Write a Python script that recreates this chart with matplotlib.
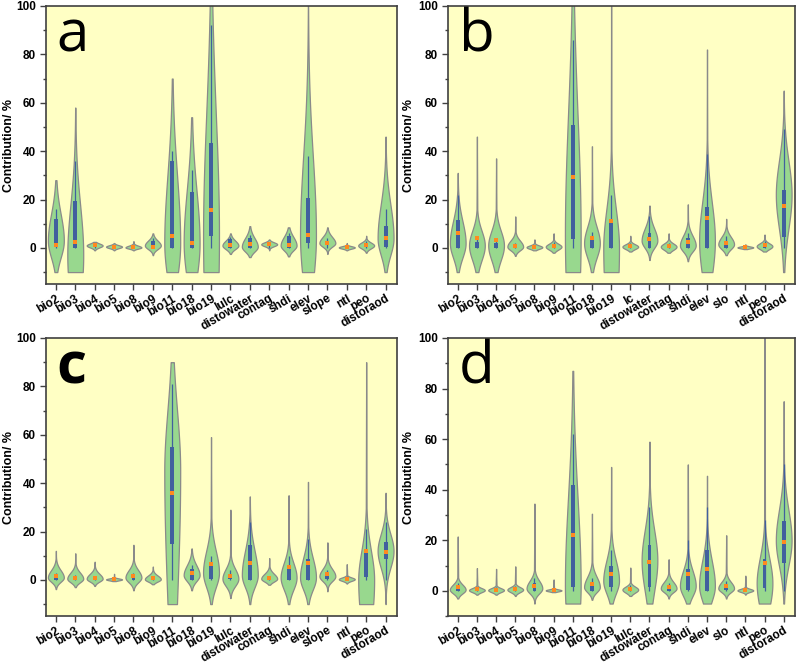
import numpy as np
import matplotlib.pyplot as plt

plt.rcParams['font.family'] = ['Liberation Sans', 'DejaVu Sans']

# variable names per panel
labels_a = ['bio2', 'bio3', 'bio4', 'bio5', 'bio8', 'bio9', 'bio11', 'bio18', 'bio19',
            'lulc', 'distowater', 'contag', 'shdi', 'elev', 'slope', 'ntl', 'peo', 'distoraod']
labels_b = ['bio2', 'bio3', 'bio4', 'bio5', 'bio8', 'bio9', 'bio11', 'bio18', 'bio19',
            'lc', 'distowater', 'contag', 'shdi', 'elev', 'slo', 'ntl', 'peo', 'distoraod']
labels_c = labels_a
labels_d = ['bio2', 'bio3', 'bio4', 'bio5', 'bio8', 'bio9', 'bio11', 'bio18', 'bio19',
            'lulc', 'distowater', 'contag', 'shdi', 'elev', 'slo', 'ntl', 'peo', 'distoraod']

# violin extents (top / bottom), mode and spread below / above the mode
top_a = [28, 58, 2.5, 2, 2.8, 6, 70, 54, 110, 6, 9, 3.5, 8.5, 100, 8.5, 2, 5, 46]
bot_a = [-10, -10, -1, -1, -1, -3, -10, -10, -10, -2.5, -3.8, -1, -3.5, -10, -2.5, -1, -2, -10]
mode_a = [3, -3, 1, 0.5, 0.2, 1, 2, 2, 5, 1, 0.5, 1.5, 1, 5, 2, 0.2, 1, 4]
slo_a = [7, 20, 0.8, 0.6, 0.5, 1.5, 15, 15, 50, 1.5, 2, 0.8, 2, 20, 1.5, 0.5, 1.2, 7]
shi_a = [11, 21, 0.8, 0.6, 0.7, 2, 28, 22, 50, 2, 3.5, 0.8, 3.5, 33, 2.5, 0.5, 1.2, 14]
q1_a = [0.5, 0, 0.8, 0.3, 0, 0, 0, 0, 5, 0, 0, 1, 0, 2, 1.5, 0, 0.5, 0.5]
q3_a = [12, 19.5, 1.3, 0.8, 0.5, 3, 36, 23, 43.5, 3.5, 4, 2, 5, 20.5, 3, 0.4, 2, 9]
whi_a = [16, 36, 1.5, 1, 1, 4, 40, 32, 92, 4.5, 5.5, 2.5, 6, 38, 4, 0.6, 3, 16]
mean_a = [1, 2.5, 1, 0.5, 0.2, 0.3, 5, 2, 15.5, 1.3, 1.8, 1.5, 1, 5.5, 2, 0.2, 1.2, 4]

top_b = [31, 46, 37, 13, 3.5, 6, 110, 42, 100, 5, 17.5, 6, 18, 82, 12, 1.5, 5.5, 65]
bot_b = [-10, -10, -10, -3.3, -1, -2, -10, -10, -10, -1.5, -5, -2, -5.5, -10, -3, -0.5, -1.5, -10]
mode_b = [2, 1, 1, 0.5, 0.3, 0.5, 5, 2, 0, 0.5, 3, 0.5, 1, 3, 1.5, 0.2, 0.7, 22]
slo_b = [6, 6, 6, 1.5, 0.7, 1.2, 40, 6, 30, 1, 3, 1.3, 2.5, 15, 2, 0.4, 1.2, 14]
shi_b = [9, 6, 6, 2.5, 0.7, 1.2, 50, 6.6, 16, 1, 5, 1.3, 4, 16, 3, 0.4, 1.2, 14]
q1_b = [0, 0, 0, 0, 0, 0, 3.5, 0, 0, 0, 0, 0, 0, 0, 0, 0, 0, 4.5]
q3_b = [11.5, 2.5, 2, 1, 0.5, 1.5, 51, 4.5, 11.5, 1, 6, 1, 4, 17, 2.5, 0.3, 1.5, 24]
whi_b = [22, 4, 3, 2, 1, 2.5, 86, 6.5, 22, 2, 13, 2, 6, 39, 5, 0.5, 3, 49]
mean_b = [6, 4, 3.3, 0.8, 0.5, 0.8, 29.5, 4, 11, 0.7, 3.8, 0.8, 2.5, 12.3, 2, 0.2, 1.2, 17.3]

top_c = [12, 11, 7.5, 2.5, 14.5, 5.5, 90, 13, 59, 29, 34.5, 9, 35, 40.5, 15.5, 6.5, 90, 36]
bot_c = [-3.8, -3, -2.5, -0.5, -4.3, -1.8, -10, -4.3, -10, -7.5, -10, -2, -10, -10, -4.7, -1.5, -10, -10]
mode_c = [1, 0.5, 0.5, 0.2, 1, 0.3, 45, 2, 3, 0.5, 2, 0.5, 1, 1, 1.5, 0.3, 0, 12]
slo_c = [1.8, 1.5, 1.2, 0.4, 2, 1, 54, 2.5, 6, 3, 5, 1.2, 5, 5, 2, 0.7, 20, 7]
shi_c = [3, 2.5, 2, 0.4, 3, 1.5, 25, 4, 9, 4, 10, 2, 6, 8, 3, 0.7, 12, 7]
q1_c = [0, 0, 0, 0, 0, 0, 15, 0, 0.5, 0.5, 0, 0, 0, 0, 0.5, 0, 1, 8.5]
q3_c = [2, 1, 1, 0.3, 2, 1, 55, 4.5, 6, 2.5, 14.5, 1, 5, 8.5, 2, 1, 11, 15.5]
whi_c = [3, 2, 1.5, 0.5, 3, 1.5, 81, 6, 10, 4, 24, 1.5, 10, 17, 4, 1.5, 21, 24]
mean_c = [1.8, 0.8, 0.7, 0.2, 1.8, 0.8, 36, 3, 6.5, 1.5, 6.8, 0.8, 5.5, 6.8, 2.3, 0.5, 11.8, 11.5]

top_d = [21.5, 9, 8.7, 9.7, 34.5, 4.5, 87, 30.5, 49, 9.2, 59, 12.5, 50, 45.5, 22, 6, 110, 75]
bot_d = [-3, -1.5, -1.5, -2, -5, -0.5, -5, -3.5, -5, -2, -5, -3, -5, -5, -3, -1.5, -5, -5]
mode_d = [0.5, 0.3, 0.3, 0.5, 1, 0.2, 2, 1.5, 4, 0.5, 12, 1, 2, 2, 1, 0.2, 3, 20]
slo_d = [1.5, 0.8, 0.8, 1, 2, 0.4, 20, 2, 5, 1.2, 12, 1.5, 4, 6, 1.5, 0.6, 10, 10]
shi_d = [2, 0.8, 0.8, 1, 3, 0.4, 35, 4, 8, 1.2, 12, 2.5, 6, 10, 2.5, 0.6, 10, 12]
q1_d = [0, 0, 0, 0, 0, 0, 1.5, 0, 1.5, 0, 1.5, 0, 0.5, 0, 0.5, 0, 1, 11]
q3_d = [2, 1, 1, 1, 3, 0.5, 42, 3.5, 10, 1.5, 18, 2, 8.5, 16, 2.5, 0.8, 12.5, 27.5]
whi_d = [3, 1.5, 1.5, 2, 5, 1, 62, 5, 16, 2.5, 33, 3, 20, 33, 4, 1.2, 28, 50]
mean_d = [1.5, 0.6, 0.5, 0.8, 2, 0.3, 22, 2.8, 6.8, 0.8, 11.3, 1.5, 6.7, 8.7, 2, 0.4, 11, 19.5]

panels = [
    ('a', labels_a, top_a, bot_a, mode_a, slo_a, shi_a, q1_a, q3_a, whi_a, mean_a, -15),
    ('b', labels_b, top_b, bot_b, mode_b, slo_b, shi_b, q1_b, q3_b, whi_b, mean_b, -15),
    ('c', labels_c, top_c, bot_c, mode_c, slo_c, shi_c, q1_c, q3_c, whi_c, mean_c, -15),
    ('d', labels_d, top_d, bot_d, mode_d, slo_d, shi_d, q1_d, q3_d, whi_d, mean_d, -10),
]
rects = [[0.058, 0.572, 0.441, 0.419], [0.563, 0.572, 0.436, 0.419],
         [0.058, 0.072, 0.441, 0.419], [0.563, 0.072, 0.436, 0.419]]
ylab_x = [-0.088, -0.095, -0.088, -0.095]

green = '#98D88E'
edge = '#8A8A8A'
blue = '#41609E'
orange = '#FF8A1F'
bg = '#FFFFC4'
W = 0.41


def draw_violin(ax, x, bot, top, m, slo, shi):
    y = np.linspace(bot, min(top, 104), 500)
    s = np.where(y < m, slo, shi)
    w = W * np.exp(-0.5 * ((y - m) / s) ** 2)
    u = np.clip((y - m) / (top - m), 0, 1)
    tail = np.where(y >= m, W * 0.07 * (1 - u), 0)
    w = np.maximum(np.maximum(w, tail), 0.004)
    ax.fill_betweenx(y, x - w, x + w, facecolor=green, edgecolor=edge, lw=0.9, zorder=2)


fig = plt.figure(figsize=(7.96, 6.64), dpi=100)
for (letter, labels, top, bot, mode, slo, shi, q1, q3, whi, mean, ymin), r, lx in zip(panels, rects, ylab_x):
    ax = fig.add_axes(r)
    ax.set_facecolor(bg)
    pos = np.arange(1, len(labels) + 1)
    for i, x in enumerate(pos):
        draw_violin(ax, x, bot[i], top[i], mode[i], slo[i], shi[i])
        ax.vlines(x, 0, whi[i], color=blue, lw=0.9, zorder=3)
        ax.bar(x, q3[i] - q1[i], bottom=q1[i], width=0.2, color=blue, zorder=4)
    ax.scatter(pos, mean, marker='s', s=12, color=orange, zorder=5, linewidths=0)

    ax.set_xlim(0.5, 18.6)
    ax.set_ylim(ymin, 100)
    ax.set_yticks(np.arange(0, 101, 20))
    ax.set_yticks(np.arange(-10, 100, 20), minor=True)
    ax.set_xticks(pos)
    ax.set_xticklabels(labels, rotation=30, ha='right', rotation_mode='anchor',
                       fontsize=8.5, fontweight='bold')
    for t in ax.get_yticklabels():
        t.set_fontweight('bold')
        t.set_fontsize(8.5)
    ax.tick_params(direction='out', length=4, width=1, color='#404040')
    ax.tick_params(axis='x', pad=2)
    ax.tick_params(which='minor', length=2.5, width=1, color='#404040')
    for sp in ax.spines.values():
        sp.set_color('#404040')
        sp.set_linewidth(1.2)
    ax.set_ylabel('Contribution/ %', fontsize=9, fontweight='bold')
    ax.yaxis.set_label_coords(lx, 0.5)
    ax.text(0.03, 0.835, letter, transform=ax.transAxes, fontsize=42, family='Open Sans',
            fontweight='bold' if letter == 'c' else 'normal', va='baseline', ha='left')

fig.savefig('out.png', dpi=100)
